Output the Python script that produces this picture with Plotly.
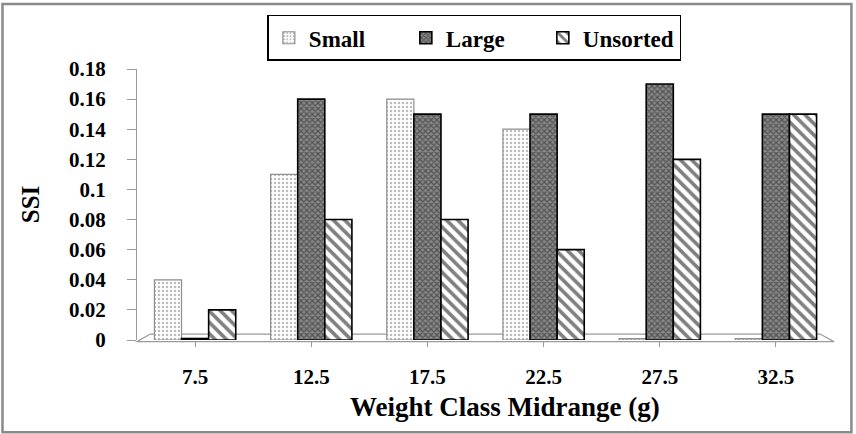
import plotly.graph_objects as go

# Weight class midranges (g) and SSI per sorting group
classes = ["7.5", "12.5", "17.5", "22.5", "27.5", "32.5"]
small = [0.04, 0.11, 0.16, 0.14, 0.001, 0.001]
large = [0.001, 0.16, 0.15, 0.15, 0.17, 0.15]
unsorted = [0.02, 0.08, 0.08, 0.06, 0.12, 0.15]
y_ticks = [0, 0.02, 0.04, 0.06, 0.08, 0.1, 0.12, 0.14, 0.16, 0.18]

FONT = "'Liberation Serif', 'Times New Roman', Times, serif"

fig = go.Figure()
fig.add_trace(go.Bar(
    name="Small", x=classes, y=small,
    marker=dict(color="white",
                line=dict(color="#8f8f8f", width=1.2),
                pattern=dict(shape=".", fgcolor="#7a7a7a", bgcolor="white",
                             size=4, solidity=0.3)),
))
fig.add_trace(go.Bar(
    name="Large", x=classes, y=large,
    marker=dict(color="#555555",
                line=dict(color="black", width=1.6),
                pattern=dict(shape="x", fgcolor="#1e1e1e", bgcolor="#8a8a8a",
                             size=4, solidity=0.55)),
))
fig.add_trace(go.Bar(
    name="Unsorted", x=classes, y=unsorted,
    marker=dict(color="white",
                line=dict(color="black", width=1.6),
                pattern=dict(shape="\\", fgcolor="black", bgcolor="white",
                             size=8, solidity=0.45)),
))

# floor of the plot area
fig.add_shape(type="path", xref="paper", yref="paper",
              path="M 0,-0.006 L 0.019,0.022 L 0.980,0.022 L 1.0,-0.006 Z",
              line=dict(color="#9a9a9a", width=1.2), fillcolor="rgba(0,0,0,0)",
              layer="below")
# outer frame
fig.add_shape(type="rect", xref="paper", yref="paper",
              x0=-0.193, x1=1.025, y0=-0.34, y1=1.24,
              line=dict(color="#8a8a8a", width=2.5))

# x-axis title
fig.add_annotation(text="<b>Weight Class Midrange (g)</b>", xref="paper", yref="paper",
                   x=0.528, y=-0.247, xanchor="center", yanchor="middle",
                   showarrow=False, font=dict(family=FONT, size=27, color="black"))

fig.update_layout(
    width=856, height=434,
    margin=dict(l=137, r=22, t=69, b=94),
    paper_bgcolor="white", plot_bgcolor="white",
    barmode="group", bargap=0.3, bargroupgap=0,
    font=dict(family=FONT, color="black"),
    showlegend=True,
    legend=dict(orientation="h", x=0.484, xanchor="center", y=1.2, yanchor="top",
                bordercolor="black", borderwidth=1.5,
                font=dict(family=FONT, size=23, color="black", weight="bold"),
                itemwidth=30, entrywidth=92, entrywidthmode="pixels",
                traceorder="normal", tracegroupgap=0),
    xaxis=dict(type="category", range=[-0.5, 5.5], showline=False,
               ticks="outside", ticklen=6, tickcolor="#9a9a9a",
               ticklabelstandoff=12,
               tickfont=dict(family=FONT, size=21, weight="bold"),
               showgrid=False, zeroline=False),
    yaxis=dict(range=[0, 0.18], tickvals=y_ticks,
               ticktext=[("%g" % v) for v in y_ticks],
               showline=True, linecolor="#9a9a9a", linewidth=1.2,
               ticks="outside", ticklen=9, tickcolor="#9a9a9a",
               ticklabelstandoff=17,
               tickfont=dict(family=FONT, size=21, weight="bold"),
               title=dict(text="SSI", standoff=22,
                          font=dict(family=FONT, size=25, weight="bold")),
               showgrid=False, zeroline=False),
)

fig.write_html("out.html")
